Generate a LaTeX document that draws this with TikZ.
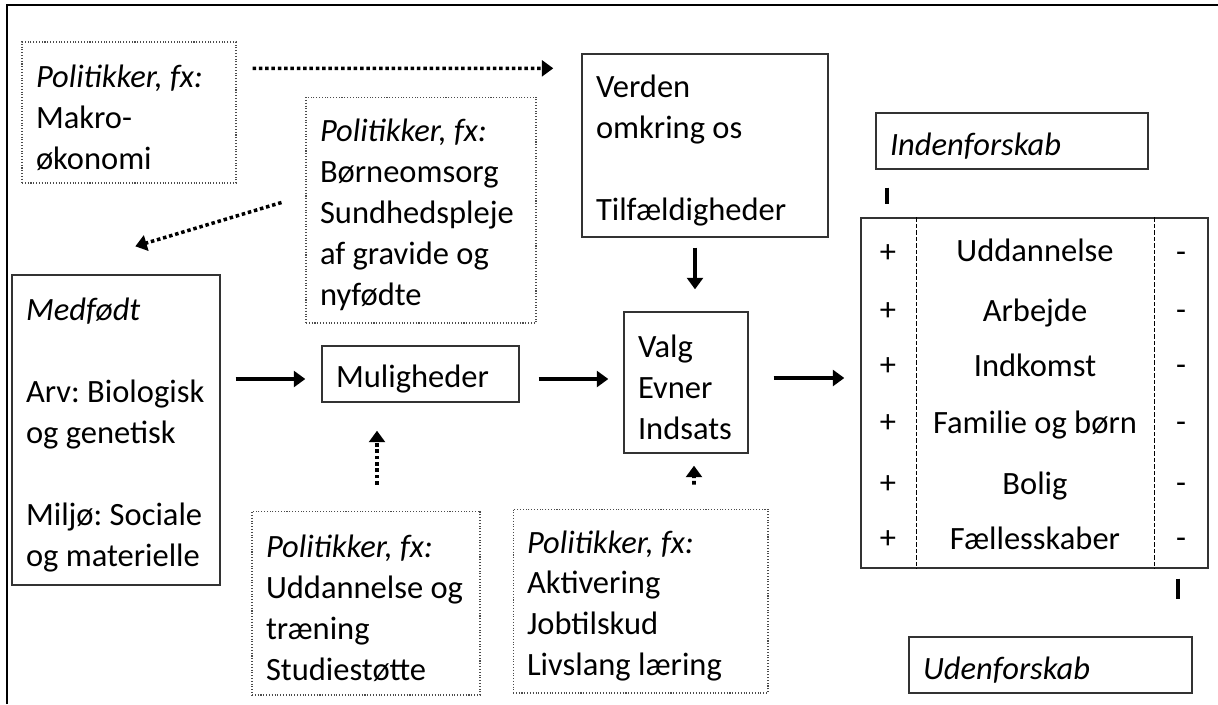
\documentclass[tikz,border=0pt]{standalone}
\usepackage{fontspec}
\setmainfont{Carlito}
\usetikzlibrary{positioning,calc,arrows.meta}

\begin{document}
\frenchspacing
\begin{tikzpicture}[x=0.02cm, y=-0.02cm, >={Triangle[length=6.5pt,width=9pt]},
  every node/.style={font=\fontsize{18.5}{23.3}\selectfont},
  box/.style={draw=black!80, line width=0.8pt, align=flush left, inner xsep=0.28cm, inner ysep=0pt,
    execute at begin node={\rule{0pt}{0.65cm}}},
  polbox/.style={box, draw=black!70, line width=0.6pt, densely dotted},
  arr/.style={->, line width=2pt},
  dotarr/.style={->, line width=2pt, dash pattern=on 2pt off 1.6pt},
  cell/.style={inner sep=0pt, text height=0.46cm, text depth=0.16cm},
  tick/.style={line width=2.3pt},
  frame/.style={line width=1.1pt}]

\useasboundingbox (0,0) rectangle (1218,704);
\draw[frame] (7,704) -- (7,5) -- (1218,5);

% policy boxes
\node[polbox, minimum width=4.28cm, minimum height=2.82cm, text width=3.72cm] (makro) at (129,112.5)
  {\textit{Politikker, fx:}\\ Makro-\\ økonomi};
\node[polbox, minimum width=4.60cm, minimum height=4.52cm, text width=4.04cm] (born) at (421,210)
  {\textit{Politikker, fx:}\\ Børneomsorg\\ Sundhedspleje\\ af gravide og\\ nyfødte};
\node[polbox, minimum width=4.56cm, minimum height=3.68cm, text width=4.00cm] (uddan) at (366,603)
  {\textit{Politikker, fx:}\\ Uddannelse og\\ træning\\ Studiestøtte};
\node[polbox, minimum width=5.10cm, minimum height=3.68cm, text width=4.54cm] (aktiv) at (640.5,601)
  {\textit{Politikker, fx:}\\ Aktivering\\ Jobtilskud\\ Livslang læring};

% main chain
\node[box, minimum width=4.92cm, minimum height=3.66cm, text width=4.36cm] (verden) at (705,145.5)
  {Verden\\ omkring os\\[0.82cm] Tilfældigheder};
\node[box, minimum width=4.16cm, minimum height=6.20cm, text width=3.60cm] (medfodt) at (116,430)
  {\textit{Medfødt}\\[0.82cm] Arv: Biologisk\\ og genetisk\\[0.82cm] Miljø: Sociale\\ og materielle};
\node[box, minimum width=3.94cm, minimum height=1.12cm, text width=3.38cm] (mulig) at (420.5,374) {Muligheder};
\node[box, minimum width=2.48cm, minimum height=2.82cm, text width=1.92cm] (valg) at (686,382.5)
  {Valg\\ Evner\\ Indsats};

% outcome table
\node[box, minimum width=5.44cm, minimum height=1.12cm, text width=4.88cm] (inden) at (1012,141) {\textit{Indenforskab}};
\node[box, minimum width=5.66cm, minimum height=1.12cm, text width=5.10cm] (uden) at (1050.5,665) {\textit{Udenforskab}};
\node[draw=black!80, line width=0.8pt, minimum width=6.94cm, minimum height=7.0cm] (tab) at (1034.5,393) {};
\draw[line width=0.6pt, dash pattern=on 2.5pt off 1.2pt] ($(tab.north west)+(56,0)$) -- ($(tab.south west)+(56,0)$);
\draw[line width=0.6pt, dash pattern=on 2.5pt off 1.2pt] ($(tab.north east)+(-54,0)$) -- ($(tab.south east)+(-54,0)$);

\node[cell] (p1) at (888,255) {+};
\node[cell] (p2) at (888,313) {+};
\node[cell] (p3) at (888,368) {+};
\node[cell] (p4) at (888,425) {+};
\node[cell] (p5) at (888,486) {+};
\node[cell] (p6) at (888,541) {+};
\node[cell] (r1) at (1035,254) {Uddannelse};
\node[cell] (r2) at (1035,314) {Arbejde};
\node[cell] (r3) at (1035,369) {Indkomst};
\node[cell] (r4) at (1035,426) {Familie og børn};
\node[cell] (r5) at (1035,487) {Bolig};
\node[cell] (r6) at (1035,542) {Fællesskaber};
\node[cell] (m1) at (1181,255) {-};
\node[cell] (m2) at (1181,313) {-};
\node[cell] (m3) at (1181,368) {-};
\node[cell] (m4) at (1181,425) {-};
\node[cell] (m5) at (1181,486) {-};
\node[cell] (m6) at (1181,541) {-};

\draw[tick] ($(inden.south west)+(12,18)$) -- ++(0,16);
\draw[tick] ($(tab.south east)+(-31,10)$) -- ++(0,20);

% arrows
\draw[dotarr] ($(makro.north east)+(16,27)$) -- ($(verden.north west)+(-28,15)$);
\draw[dotarr] ($(born.north west)+(-24,106)$) -- ($(medfodt.north west)+(124,-28)$);
\draw[dotarr] ($(uddan.north)+(11,-26)$) -- ($(mulig.south)+(-43.5,28)$);
\draw[dotarr] ($(aktiv.north)+(53.5,-24)$) -- ($(valg.south)+(8,12)$);
\draw[arr] ($(verden.south)+(-10,10)$) -- ($(valg.north)+(9,-22)$);
\draw[arr] ($(medfodt.east |- mulig.west)+(15,5)$) -- ($(mulig.west)+(-16,5)$);
\draw[arr] ($(mulig.east)+(19,5)$) -- ($(mulig.east -| valg.west)+(-15,5)$);
\draw[arr] ($(valg.east)+(25,-4.5)$) -- ($(valg.east -| tab.west)+(-16,-4.5)$);
\end{tikzpicture}
\end{document}
